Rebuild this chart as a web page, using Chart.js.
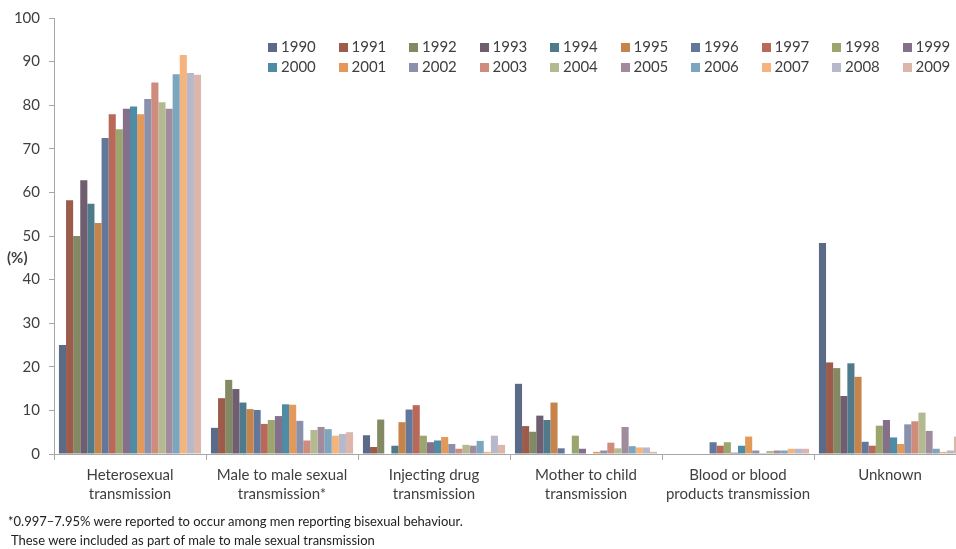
<!DOCTYPE html>
<html>
<head>
<meta charset="utf-8">
<script src="https://cdn.jsdelivr.net/npm/chart.js"></script>
<style>
  body { margin:0; overflow:hidden; background:#fff; font-family:Lato, sans-serif; }
  #wrap { position:relative; width:980px; height:549px; }
  #legend { position:absolute; left:268px; top:36px; display:grid; grid-template-columns:repeat(10, 70.5px); }
  #legend div { height:20px; line-height:20px; font-size:15px; color:#3f3f3f; white-space:nowrap; }
  #legend span { display:inline-block; width:9px; height:9px; margin-right:4px; vertical-align:0px; }
  #note { position:absolute; left:8px; top:512px; font-size:13px; line-height:19px; color:#222; }
</style>
</head>
<body>
<div id="wrap">
  <canvas id="myChart"></canvas>
  <div id="legend"></div>
  <div id="note">*0.997–7.95% were reported to occur among men reporting bisexual behaviour.<br>&nbsp;These were included as part of male to male sexual transmission</div>
</div>
<script>
// categories on the x axis (multi line labels)
const categories = [
    ['Heterosexual', 'transmission'],
    ['Male to male sexual', 'transmission*'],
    ['Injecting drug', 'transmission'],
    ['Mother to child', 'transmission'],
    ['Blood or blood', 'products transmission'],
    'Unknown'
];
const years = ['1990','1991','1992','1993','1994','1995','1996','1997','1998','1999',
               '2000','2001','2002','2003','2004','2005','2006','2007','2008','2009'];

// % per year, one array per category (1990 ... 2009)
const heterosexual  = [25.0, 58.2, 50.0, 62.8, 57.4, 53.0, 72.5, 77.9, 74.5, 79.2, 79.7, 77.9, 81.4, 85.2, 80.7, 79.2, 87.1, 91.5, 87.4, 87.0];
const maleToMale    = [6.0, 12.8, 17.0, 14.9, 11.8, 10.3, 10.1, 6.9, 7.8, 8.7, 11.4, 11.3, 7.6, 3.1, 5.5, 6.2, 5.7, 4.2, 4.6, 5.0];
const injectingDrug = [4.3, 1.6, 7.9, 0, 1.9, 7.3, 10.2, 11.2, 4.2, 2.7, 3.1, 3.9, 2.3, 1.2, 2.1, 1.9, 3.0, 0.5, 4.2, 2.1];
const motherToChild = [16.1, 6.4, 5.1, 8.8, 7.8, 11.8, 1.3, 0, 4.2, 1.2, 0, 0.5, 0.8, 2.6, 1.3, 6.2, 1.8, 1.5, 1.5, 0.5];
const bloodProducts = [0, 0, 0, 0, 0, 0, 2.7, 1.9, 2.7, 0.3, 1.9, 4.0, 0.8, 0.2, 0.7, 0.8, 0.8, 1.2, 1.2, 1.2];
const unknown       = [48.4, 21.0, 19.7, 13.3, 20.8, 17.7, 2.8, 1.9, 6.5, 7.8, 3.8, 2.3, 6.8, 7.5, 9.5, 5.3, 1.2, 0.5, 0.8, 4.0];

const colours = ['#5b6a87','#9c5b4b','#838a63','#6e5e70','#4f7a8c','#c7844a','#62779a','#b86958','#9ba56e','#84708a',
                 '#4e8ca6','#e3995a','#8b91ad','#cf8c7c','#b3ba90','#a08c9c','#7ba6be','#f5b37d','#b8b8cb','#dcb6aa'];

const byCategory = [heterosexual, maleToMale, injectingDrug, motherToChild, bloodProducts, unknown];

const axisColour = '#a6a6a6';
const textColour = '#3f3f3f';

// "(%)" label left of the y axis
const percentLabel = {
    id: 'percentLabel',
    afterDraw(chart) {
        const c = chart.ctx;
        c.save();
        c.font = 'bold 15px Lato';
        c.fillStyle = textColour;
        c.textBaseline = 'middle';
        c.fillText('(%)', 7, 258);
        c.restore();
    }
};

const ctx = document.getElementById('myChart').getContext('2d');

const myChart = new Chart(ctx, {
    type: 'bar',
    data: {
        labels: categories,
        datasets: years.map((y, i) => ({
            label: y,
            data: byCategory.map(arr => arr[i]),
            backgroundColor: colours[i],
            borderWidth: 0,
            categoryPercentage: 0.935,
            barPercentage: 1.0
        }))
    },
    options: {
        responsive: true,
        maintainAspectRatio: false,
        animation: false,
        layout: { padding: { top: 16, right: 14, left: 0, bottom: 0 } },
        plugins: {
            legend: { display: false }, // html legend below
            tooltip: { enabled: false }
        },
        scales: {
            y: {
                min: 0,
                max: 100,
                ticks: {
                    stepSize: 10,
                    padding: 9,
                    color: textColour,
                    font: { family: 'Lato', size: 15 }
                },
                grid: {
                    drawOnChartArea: false,
                    color: axisColour,
                    tickLength: 5
                },
                border: { color: axisColour },
                afterFit(scale) { scale.width = 54; }
            },
            x: {
                ticks: {
                    padding: 6,
                    maxRotation: 0,
                    autoSkip: false,
                    color: textColour,
                    font: { family: 'Lato', size: 15, lineHeight: 1.27 }
                },
                grid: {
                    offset: true,
                    drawOnChartArea: false,
                    color: axisColour,
                    tickLength: 6
                },
                border: { color: axisColour },
                afterFit(scale) { scale.height = 95; }
            }
        }
    },
    plugins: [percentLabel]
});

// legend: 10 columns, 2 rows
const legendBox = document.getElementById('legend');
myChart.data.datasets.forEach(ds => {
    const item = document.createElement('div');
    const sw = document.createElement('span');
    sw.style.background = ds.backgroundColor;
    item.appendChild(sw);
    item.appendChild(document.createTextNode(ds.label));
    legendBox.appendChild(item);
});
</script>
</body>
</html>
